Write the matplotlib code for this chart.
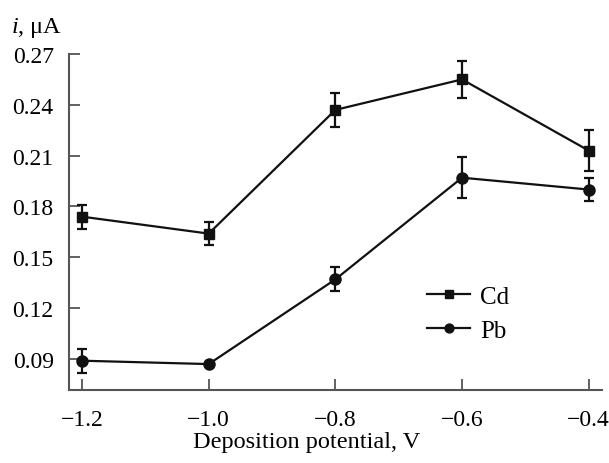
import matplotlib.pyplot as plt

plt.rcParams['font.family'] = 'Liberation Serif'
plt.rcParams['mathtext.fontset'] = 'custom'
plt.rcParams['mathtext.rm'] = 'Liberation Serif'
plt.rcParams['mathtext.it'] = 'Liberation Serif:italic'

potential = [-1.2, -1.0, -0.8, -0.6, -0.4]

cd_current = [0.174, 0.164, 0.237, 0.255, 0.213]
cd_err = [0.007, 0.007, 0.010, 0.011, 0.012]

pb_current = [0.089, 0.087, 0.137, 0.197, 0.190]
pb_err = [0.007, 0.0, 0.007, 0.012, 0.007]

x_ticks = [-1.2, -1.0, -0.8, -0.6, -0.4]
x_labels = ['\u22121.2', '\u22121.0', '\u22120.8', '\u22120.6', '\u22120.4']
y_ticks = [0.09, 0.12, 0.15, 0.18, 0.21, 0.24, 0.27]

fig = plt.figure(figsize=(6.09, 4.64), dpi=100)
ax = fig.add_axes([0.1133, 0.1573, 0.8752, 0.7242])

ax.errorbar(potential, cd_current, yerr=cd_err, color='#111111', lw=1.6,
            marker='s', ms=7, capsize=3.5, elinewidth=1.6, capthick=1.6, label='Cd')
ax.errorbar(potential, pb_current, yerr=pb_err, color='#111111', lw=1.6,
            marker='o', ms=8, capsize=3.5, elinewidth=1.6, capthick=1.6, label='Pb')

ax.set_xlim(-1.2206, -0.379)
ax.set_ylim(0.0717, 0.27)
ax.set_xticks(x_ticks)
ax.set_xticklabels(x_labels)
ax.set_yticks(y_ticks)
ax.set_yticklabels(['%.2f' % v for v in y_ticks])

for side in ['top', 'right']:
    ax.spines[side].set_visible(False)
for side in ['left', 'bottom']:
    ax.spines[side].set_color('#555555')
    ax.spines[side].set_linewidth(1.5)
ax.tick_params(direction='in', length=8, width=1.3, color='#555555',
               labelsize=17)
ax.tick_params(axis='x', pad=14)
ax.tick_params(axis='y', pad=11)

fig.text(307 / 609, 1 - 443 / 464, 'Deposition potential, V', fontsize=17.5,
         ha='center', va='center')
fig.text(0.018, 0.94, '$\\mathit{i}$, \u03bcA', fontsize=17.5, va='center')

handles, labels = ax.get_legend_handles_labels()
ax.legend([h[0] for h in handles], labels, loc='center left',
          bbox_to_anchor=(0.63, 0.227), frameon=False, fontsize=18,
          handlelength=1.7, handletextpad=0.4, labelspacing=0.45, markerscale=0.8)

fig.savefig('out.png', dpi=100)
